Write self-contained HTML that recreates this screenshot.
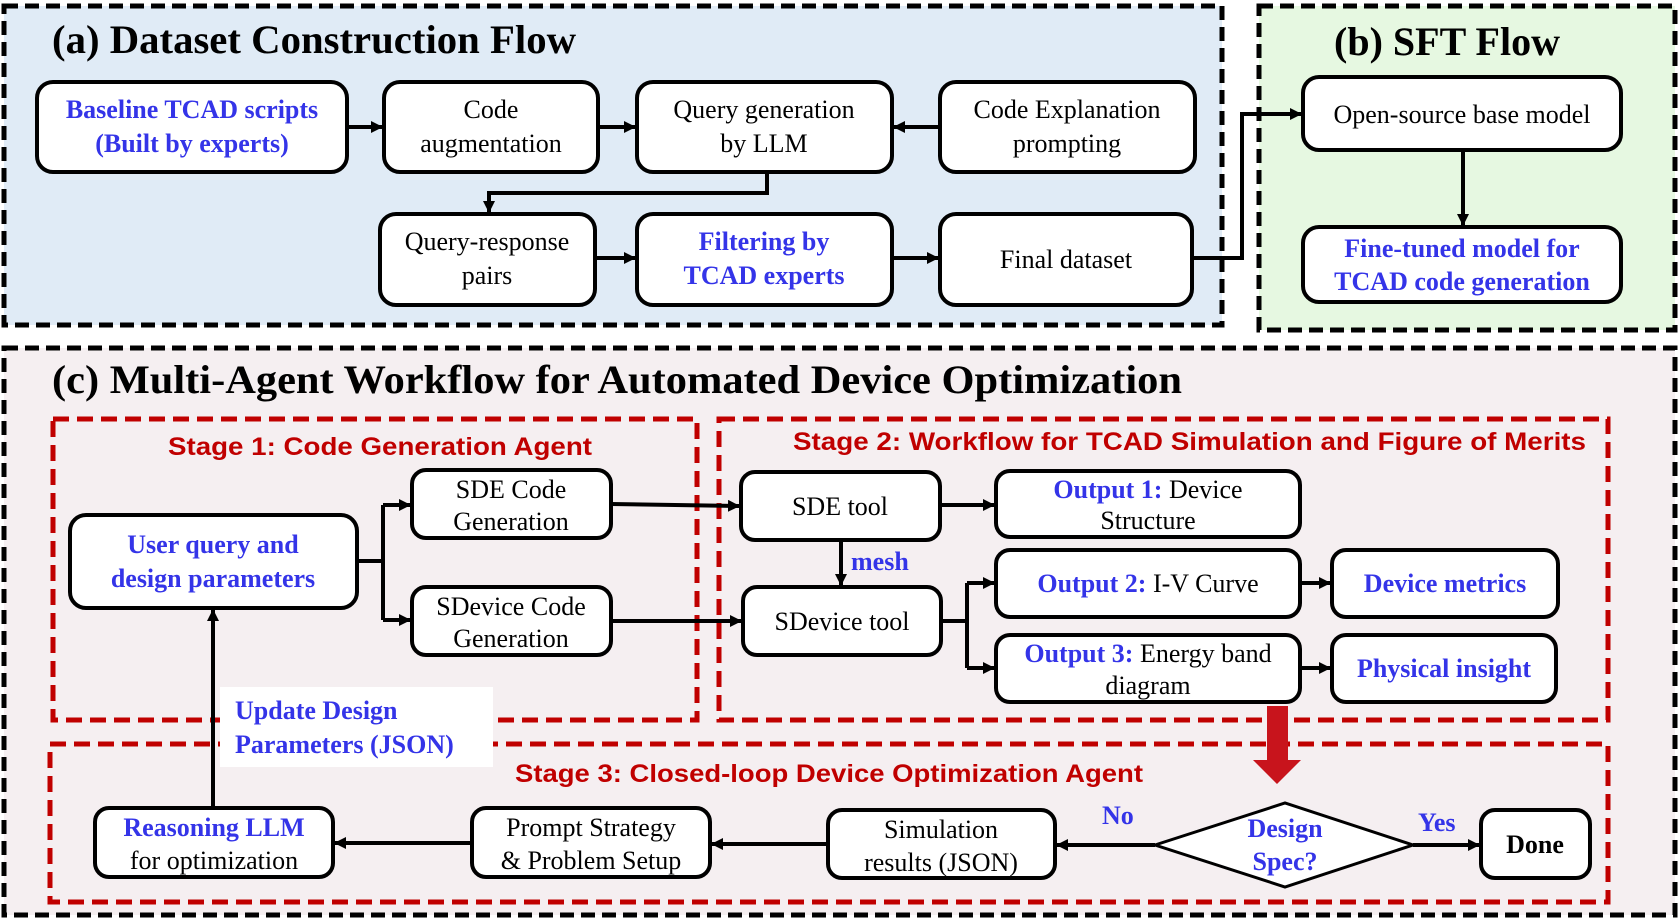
<!DOCTYPE html>
<html><head><meta charset="utf-8"><style>
html,body{margin:0;padding:0;background:#fff;}
svg{display:block;}
.s{font-family:"Liberation Serif",serif;font-size:26px;fill:#000;}
.b{font-weight:bold;fill:#3434e8;}
.t{font-family:"Liberation Serif",serif;font-weight:bold;font-size:40px;fill:#000;}
.r{font-family:"Liberation Sans",sans-serif;font-weight:bold;font-size:25px;fill:#c00000;}
</style></head><body>
<svg width="1680" height="919" viewBox="0 0 1680 919" xmlns="http://www.w3.org/2000/svg">
<defs>
<marker id="a" markerWidth="12" markerHeight="12" refX="11" refY="6" orient="auto" markerUnits="userSpaceOnUse" viewBox="0 0 12 12"><path d="M0,0 L12,6 L0,12 z" fill="#000"/></marker>
</defs>
<rect x="4" y="6" width="1218" height="319" fill="#e0ebf6" stroke="#000" stroke-width="5" stroke-dasharray="14 7"/>
<rect x="1259" y="6" width="416" height="324" fill="#e6f8e1" stroke="#000" stroke-width="5" stroke-dasharray="14 7"/>
<rect x="4" y="348" width="1671" height="567" fill="#f5eff1" stroke="#000" stroke-width="5" stroke-dasharray="14 7"/>
<text class="t" x="52" y="53" textLength="524" lengthAdjust="spacingAndGlyphs">(a) Dataset Construction Flow</text>
<text class="t" x="1334" y="55" textLength="226" lengthAdjust="spacingAndGlyphs">(b) SFT Flow</text>
<text class="t" x="52" y="393" textLength="1130" lengthAdjust="spacingAndGlyphs">(c) Multi-Agent Workflow for Automated Device Optimization</text>
<g fill="#fff" stroke="#000" stroke-width="4">
<rect x="37" y="82" width="310" height="90" rx="16"/>
<rect x="384" y="82" width="214" height="90" rx="16"/>
<rect x="637" y="82" width="255" height="90" rx="16"/>
<rect x="940" y="82" width="255" height="90" rx="16"/>
<rect x="380" y="214" width="215" height="91" rx="16"/>
<rect x="637" y="214" width="255" height="91" rx="16"/>
<rect x="940" y="214" width="252" height="91" rx="16"/>
<rect x="1303" y="77" width="318" height="73" rx="16"/>
<rect x="1303" y="227" width="318" height="75" rx="16"/>
</g>
<g stroke="#000" stroke-width="4" fill="none">
<line x1="347" y1="127" x2="382" y2="127" marker-end="url(#a)"/>
<line x1="598" y1="127" x2="635" y2="127" marker-end="url(#a)"/>
<line x1="940" y1="127" x2="894" y2="127" marker-end="url(#a)"/>
<polyline points="767,172 767,193 489,193 489,212" marker-end="url(#a)"/>
<line x1="595" y1="258" x2="635" y2="258" marker-end="url(#a)"/>
<line x1="892" y1="258" x2="938" y2="258" marker-end="url(#a)"/>
<polyline points="1192,258 1242,258 1242,114 1301,114" marker-end="url(#a)"/>
<line x1="1463" y1="150" x2="1463" y2="225" marker-end="url(#a)"/>
</g>
<g class="s" text-anchor="middle">
<text class="s b" x="192" y="118">Baseline TCAD scripts</text>
<text class="s b" x="192" y="152">(Built by experts)</text>
<text x="491" y="118">Code</text><text x="491" y="152">augmentation</text>
<text x="764" y="118">Query generation</text><text x="764" y="152">by LLM</text>
<text x="1067" y="118">Code Explanation</text><text x="1067" y="152">prompting</text>
<text x="487" y="250">Query-response</text><text x="487" y="284">pairs</text>
<text class="s b" x="764" y="250">Filtering by</text><text class="s b" x="764" y="284">TCAD experts</text>
<text x="1066" y="268">Final dataset</text>
<text x="1462" y="123">Open-source base model</text>
<text class="s b" x="1462" y="257">Fine-tuned model for</text>
<text class="s b" x="1462" y="290">TCAD code generation</text>
</g>
<g fill="none" stroke="#c00000" stroke-width="5" stroke-dasharray="16 8">
<rect x="53" y="419" width="644" height="301"/>
<rect x="719" y="419" width="889" height="301"/>
<rect x="50" y="744" width="1558" height="158"/>
</g>
<text class="r" x="168" y="455" textLength="424" lengthAdjust="spacingAndGlyphs">Stage 1: Code Generation Agent</text>
<text class="r" x="793" y="450" textLength="793" lengthAdjust="spacingAndGlyphs">Stage 2: Workflow for TCAD Simulation and Figure of Merits</text>
<text class="r" x="515" y="782" textLength="628" lengthAdjust="spacingAndGlyphs">Stage 3: Closed-loop Device Optimization Agent</text>
<rect x="220" y="687" width="273" height="80" fill="#fff"/>
<g fill="#fff" stroke="#000" stroke-width="4">
<rect x="70" y="515" width="287" height="93" rx="16"/>
<rect x="412" y="470" width="199" height="68" rx="14"/>
<rect x="412" y="587" width="199" height="68" rx="14"/>
<rect x="741" y="472" width="199" height="68" rx="14"/>
<rect x="743" y="587" width="198" height="68" rx="14"/>
<rect x="996" y="471" width="304" height="66" rx="14"/>
<rect x="996" y="550" width="304" height="67" rx="14"/>
<rect x="996" y="635" width="304" height="67" rx="14"/>
<rect x="1332" y="550" width="226" height="67" rx="14"/>
<rect x="1332" y="635" width="224" height="67" rx="14"/>
<rect x="95" y="808" width="238" height="69" rx="14"/>
<rect x="472" y="808" width="238" height="69" rx="14"/>
<rect x="828" y="810" width="227" height="68" rx="14"/>
<rect x="1481" y="810" width="109" height="68" rx="14"/>
<polygon points="1155,845 1285,803 1413,845 1285,887" stroke-width="3"/>
</g>
<g stroke="#000" stroke-width="4" fill="none">
<polyline points="357,561 383,561"/>
<polyline points="383,505 383,620"/>
<line x1="383" y1="505" x2="410" y2="505" marker-end="url(#a)"/>
<line x1="383" y1="620" x2="410" y2="620" marker-end="url(#a)"/>
<line x1="611" y1="504" x2="739" y2="506" marker-end="url(#a)"/>
<line x1="611" y1="621" x2="741" y2="621" marker-end="url(#a)"/>
<line x1="940" y1="505" x2="994" y2="505" marker-end="url(#a)"/>
<line x1="841" y1="540" x2="841" y2="585" marker-end="url(#a)"/>
<polyline points="941,621 967,621"/>
<polyline points="967,583 967,668"/>
<line x1="967" y1="583" x2="994" y2="583" marker-end="url(#a)"/>
<line x1="967" y1="668" x2="994" y2="668" marker-end="url(#a)"/>
<line x1="1300" y1="583" x2="1330" y2="583" marker-end="url(#a)"/>
<line x1="1300" y1="668" x2="1330" y2="668" marker-end="url(#a)"/>
<line x1="213" y1="808" x2="213" y2="610" marker-end="url(#a)"/>
<line x1="472" y1="843" x2="335" y2="843" marker-end="url(#a)"/>
<line x1="828" y1="844" x2="712" y2="844" marker-end="url(#a)"/>
<line x1="1155" y1="845" x2="1057" y2="845" marker-end="url(#a)"/>
<line x1="1413" y1="845" x2="1479" y2="845" marker-end="url(#a)"/>
</g>
<polygon points="1267,706 1288,706 1288,760 1301,760 1277,784 1253,760 1267,760" fill="#c8141c"/>
<g class="s" text-anchor="middle">
<text class="s b" x="213" y="553">User query and</text>
<text class="s b" x="213" y="587">design parameters</text>
<text x="511" y="498">SDE Code</text><text x="511" y="530">Generation</text>
<text x="511" y="615">SDevice Code</text><text x="511" y="647">Generation</text>
<text x="840" y="515">SDE tool</text>
<text x="842" y="630">SDevice tool</text>
<text x="1148" y="498"><tspan class="b">Output 1:</tspan> Device</text>
<text x="1148" y="529">Structure</text>
<text x="1148" y="592"><tspan class="b">Output 2:</tspan> I-V Curve</text>
<text x="1148" y="662"><tspan class="b">Output 3:</tspan> Energy band</text>
<text x="1148" y="694">diagram</text>
<text class="s b" x="1445" y="592">Device metrics</text>
<text class="s b" x="1444" y="677">Physical insight</text>
<text class="s b" x="214" y="836">Reasoning LLM</text>
<text x="214" y="869">for optimization</text>
<text x="591" y="836">Prompt Strategy</text>
<text x="591" y="869">&amp; Problem Setup</text>
<text x="941" y="838">Simulation</text>
<text x="941" y="871">results (JSON)</text>
<text class="s b" x="1285" y="837">Design</text>
<text class="s b" x="1285" y="870">Spec?</text>
<text x="1535" y="853" font-weight="bold">Done</text>
</g>
<text class="s b" x="851" y="570">mesh</text>
<text class="s b" x="1102" y="824">No</text>
<text class="s b" x="1418" y="831">Yes</text>
<text class="s b" x="235" y="719">Update Design</text>
<text class="s b" x="235" y="753">Parameters (JSON)</text>
</svg>
</body></html>
